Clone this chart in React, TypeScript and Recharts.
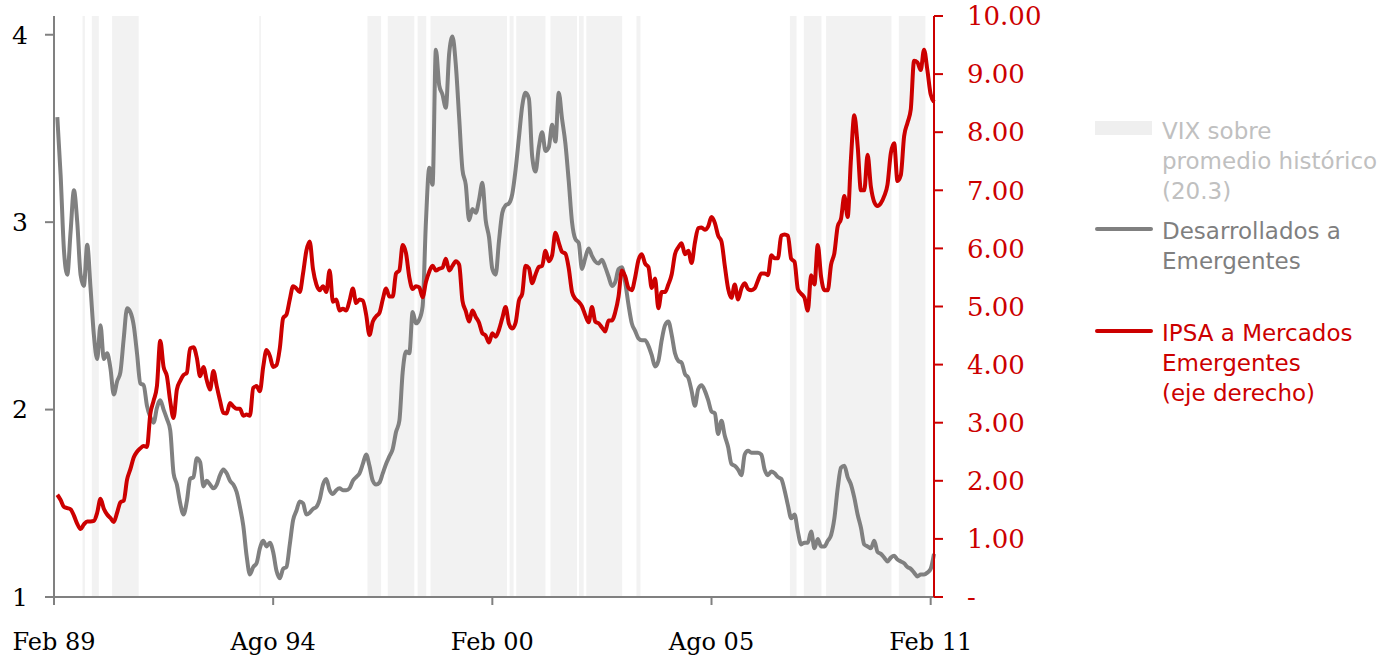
import React from "react";
import {
  ComposedChart,
  Line,
  XAxis,
  YAxis,
  ReferenceArea,
} from "recharts";

// month index 0 = Feb 89
const xTicks = [0, 66, 132, 198, 264];
const xTickLabels = ["Feb 89", "Ago 94", "Feb 00", "Ago 05", "Feb 11"];
const leftTicks = [1, 2, 3, 4];
const rightTicks = [0, 1, 2, 3, 4, 5, 6, 7, 8, 9, 10];

// Desarrollados a Emergentes (left axis), months 1..265
const devToEm = [
  3.56, 3.25, 2.85, 2.72, 2.95, 3.17, 3.0, 2.72, 2.66, 2.88,
  2.65, 2.4, 2.27, 2.45, 2.27, 2.3, 2.22, 2.08, 2.15, 2.2,
  2.38, 2.54, 2.52, 2.45, 2.3, 2.14, 2.13, 2.02, 1.96, 1.93,
  2.01, 2.05, 2.0, 1.95, 1.89, 1.66, 1.6, 1.5, 1.44, 1.51,
  1.63, 1.64, 1.74, 1.72, 1.59, 1.62, 1.6, 1.58, 1.6, 1.65,
  1.68, 1.66, 1.62, 1.6, 1.56, 1.48, 1.38, 1.22, 1.12, 1.16,
  1.18, 1.26, 1.3, 1.27, 1.29, 1.24, 1.14, 1.1, 1.15, 1.16,
  1.28, 1.41, 1.46, 1.51, 1.5, 1.44, 1.45, 1.47, 1.48, 1.52,
  1.6, 1.63, 1.57, 1.55, 1.57, 1.58, 1.57, 1.57, 1.58, 1.62,
  1.64, 1.66, 1.71, 1.76, 1.7, 1.62, 1.6, 1.61, 1.66, 1.71,
  1.75, 1.79, 1.88, 1.94, 2.2, 2.31, 2.3, 2.52, 2.46, 2.48,
  2.55, 3.0, 3.29, 3.2, 3.92, 3.73, 3.68, 3.61, 3.9, 3.99,
  3.84, 3.56, 3.28, 3.2, 3.01, 3.07, 3.05, 3.12, 3.21, 3.01,
  2.92, 2.75, 2.72, 2.9, 3.05, 3.09, 3.1, 3.15, 3.28, 3.45,
  3.62, 3.69, 3.66, 3.35, 3.27, 3.4, 3.48, 3.38, 3.4, 3.52,
  3.43, 3.69, 3.55, 3.42, 3.22, 3.0, 2.91, 2.89, 2.75, 2.81,
  2.86, 2.82, 2.79, 2.78, 2.8, 2.76, 2.71, 2.66, 2.68, 2.75,
  2.76, 2.68, 2.56, 2.46, 2.42, 2.38, 2.37, 2.37, 2.34, 2.29,
  2.23, 2.26, 2.37, 2.45, 2.47, 2.4, 2.3, 2.26, 2.25, 2.19,
  2.17, 2.1, 2.02, 2.11, 2.13, 2.1, 2.05, 1.99, 1.98, 1.87,
  1.94, 1.86, 1.8, 1.71, 1.7, 1.68, 1.65, 1.76, 1.78, 1.77,
  1.77, 1.77, 1.76, 1.68, 1.65, 1.67, 1.66, 1.64, 1.63, 1.57,
  1.49, 1.42, 1.44, 1.35, 1.28, 1.29, 1.29, 1.35, 1.26, 1.31,
  1.27, 1.27, 1.3, 1.33, 1.42, 1.58, 1.69, 1.7, 1.64, 1.6,
  1.53, 1.44, 1.37, 1.28, 1.27, 1.26, 1.3, 1.24, 1.23, 1.21,
  1.19, 1.21, 1.22, 1.2, 1.19, 1.18, 1.16, 1.15, 1.13, 1.11,
  1.12, 1.12, 1.13, 1.15, 1.23,
];

// IPSA a Mercados Emergentes (right axis), months 1..265
const ipsaToEm = [
  1.76, 1.67, 1.55, 1.53, 1.51, 1.4, 1.26, 1.17, 1.25, 1.3,
  1.3, 1.31, 1.45, 1.69, 1.52, 1.42, 1.36, 1.29, 1.45, 1.63,
  1.66, 2.02, 2.2, 2.4, 2.5, 2.56, 2.6, 2.58, 3.15, 3.38,
  3.63, 4.41, 3.96, 3.8, 3.37, 3.08, 3.57, 3.72, 3.82, 3.86,
  4.28, 4.3, 4.12, 3.8, 3.96, 3.73, 3.57, 3.89, 3.63, 3.38,
  3.17, 3.16, 3.34, 3.28, 3.24, 3.24, 3.12, 3.14, 3.12, 3.6,
  3.63, 3.54, 3.96, 4.25, 4.15, 3.96, 3.99, 4.28, 4.8, 4.86,
  5.12, 5.35, 5.31, 5.25, 5.57, 5.96, 6.12, 5.64, 5.38, 5.28,
  5.35, 5.25, 5.62, 5.08, 5.12, 4.93, 4.96, 4.93, 5.1, 5.31,
  5.06, 5.12, 5.1, 4.86, 4.51, 4.74, 4.83, 4.89, 5.12, 5.31,
  5.17, 5.17, 5.57, 5.62, 6.06, 5.92, 5.5, 5.3, 5.35, 5.33,
  5.16, 5.42, 5.6, 5.7, 5.62, 5.65, 5.67, 5.82, 5.62, 5.7,
  5.78, 5.72, 5.1, 4.92, 4.74, 4.93, 4.82, 4.72, 4.54, 4.5,
  4.38, 4.54, 4.48, 4.6, 4.8, 4.99, 4.7, 4.62, 4.72, 5.1,
  5.22, 5.7, 5.66, 5.4, 5.55, 5.68, 5.7, 5.96, 5.78, 5.88,
  6.27, 6.1, 5.94, 5.91, 5.66, 5.25, 5.13, 5.08, 5.0, 4.85,
  4.73, 4.99, 4.74, 4.71, 4.64, 4.57, 4.76, 4.76, 4.9, 5.17,
  5.62, 5.52, 5.32, 5.28, 5.5, 5.8, 5.9, 5.74, 5.68, 5.32,
  5.48, 4.97, 5.25, 5.25, 5.38, 5.55, 5.9, 6.02, 6.09, 5.9,
  5.96, 5.75, 6.1, 6.35, 6.36, 6.32, 6.38, 6.54, 6.44, 6.22,
  6.12, 5.7, 5.31, 5.15, 5.38, 5.12, 5.31, 5.4, 5.3, 5.28,
  5.31, 5.45, 5.57, 5.57, 5.54, 5.88, 5.83, 5.83, 6.22, 6.24,
  6.22, 5.82, 5.77, 5.3, 5.22, 5.15, 4.93, 5.54, 5.38, 6.06,
  5.51, 5.28, 5.28, 5.72, 5.92, 6.38, 6.51, 6.9, 6.54, 7.55,
  8.29, 7.77, 7.0, 7.0, 7.61, 7.06, 6.8, 6.73, 6.78, 6.9,
  7.1, 7.64, 7.81, 7.16, 7.26, 7.93, 8.16, 8.39, 9.23, 9.2,
  9.07, 9.42, 9.07, 8.65, 8.52,
];

// months with VIX above its historical average (start, end)
const vixPeriods: [number, number][] = [
  [8.6, 9.3], [11.4, 13.5], [17.5, 25.5], [61.8, 62.3],
  [94.4, 98.5], [100.5, 108.5], [109.5, 112.1], [113.4, 136.4],
  [137.2, 138.4], [139.2, 148.0], [149.5, 157.5], [158.1, 159.5],
  [160.3, 171.1], [175.4, 176.6], [221.6, 223.6], [225.8, 231.1],
  [232.5, 252.2], [254.4, 262.4],
];

const GRAY = "#808080";
const RED = "#cc0000";
const SHADE = "#f2f2f2";
const serif = "'DejaVu Serif', serif";
const sans = "'DejaVu Sans', sans-serif";

const chartData = devToEm.map((v, i) => ({
  m: i + 1,
  dev: v,
  ipsa: ipsaToEm[i],
}));

const legendText: React.CSSProperties = {
  fontFamily: sans,
  fontSize: 23,
  lineHeight: "30px",
  whiteSpace: "nowrap",
};

// legend drawn beside the chart so it doesn't eat into the plot height
const ChartLegend = () => (
  <div style={{ position: "absolute", left: 1095, top: 116, width: 290, height: 300 }}>
    <div
      style={{ position: "absolute", left: 0, top: 5, width: 57, height: 14, background: "#efefef" }}
    />
    <div style={{ ...legendText, position: "absolute", left: 67, top: 0, color: "#c0c0c0" }}>
      VIX sobre
      <br />
      promedio histórico
      <br />
      (20.3)
    </div>
    <div
      style={{ position: "absolute", left: 0, top: 111, width: 58, height: 4, borderRadius: 2, background: GRAY }}
    />
    <div style={{ ...legendText, position: "absolute", left: 67, top: 100, color: "#7f7f7f" }}>
      Desarrollados a
      <br />
      Emergentes
    </div>
    <div
      style={{ position: "absolute", left: 0, top: 213, width: 58, height: 4, borderRadius: 2, background: RED }}
    />
    <div style={{ ...legendText, position: "absolute", left: 67, top: 202, color: RED }}>
      IPSA a Mercados
      <br />
      Emergentes
      <br />
      (eje derecho)
    </div>
  </div>
);

const App = () => {
  return (
    <div style={{ position: "absolute", left: 0, top: 0, width: 1386, height: 663, background: "#fff" }}>
      <ComposedChart
        width={1386}
        height={663}
        data={chartData}
        margin={{ top: 16, right: 392, bottom: 0, left: 0 }}
      >
        {vixPeriods.map(([a, b], idx) => (
          <ReferenceArea
            key={idx}
            yAxisId="left"
            x1={a}
            x2={b}
            fill={SHADE}
            fillOpacity={1}
            stroke="none"
            ifOverflow="hidden"
          />
        ))}
        <XAxis
          dataKey="m"
          type="number"
          domain={[0, 265]}
          ticks={xTicks}
          tickFormatter={(v: number) => xTickLabels[xTicks.indexOf(v)] ?? ""}
          height={66}
          stroke={GRAY}
          strokeWidth={2}
          tickSize={8}
          tickMargin={28}
          interval={0}
          tick={{ fill: "#000", fontSize: 24, fontFamily: serif }}
        />
        <YAxis
          yAxisId="left"
          domain={[1, 4.1]}
          ticks={leftTicks}
          width={54}
          stroke={GRAY}
          strokeWidth={2}
          tickSize={9}
          tickMargin={17}
          interval={0}
          tick={{ fill: "#000", fontSize: 25, fontFamily: serif }}
        />
        <YAxis
          yAxisId="right"
          orientation="right"
          domain={[0, 10]}
          ticks={rightTicks}
          tickFormatter={(v: number) => (v === 0 ? "-" : v.toFixed(2))}
          width={60}
          stroke={RED}
          strokeWidth={2}
          tickSize={9}
          tickMargin={24}
          interval={0}
          tick={{ fill: RED, fontSize: 26, fontFamily: serif }}
        />
        <Line
          yAxisId="left"
          type="monotone"
          dataKey="dev"
          stroke={GRAY}
          strokeWidth={4}
          dot={false}
          isAnimationActive={false}
        />
        <Line
          yAxisId="right"
          type="monotone"
          dataKey="ipsa"
          stroke={RED}
          strokeWidth={4}
          dot={false}
          isAnimationActive={false}
        />
      </ComposedChart>
      <ChartLegend />
    </div>
  );
};

export default App;
